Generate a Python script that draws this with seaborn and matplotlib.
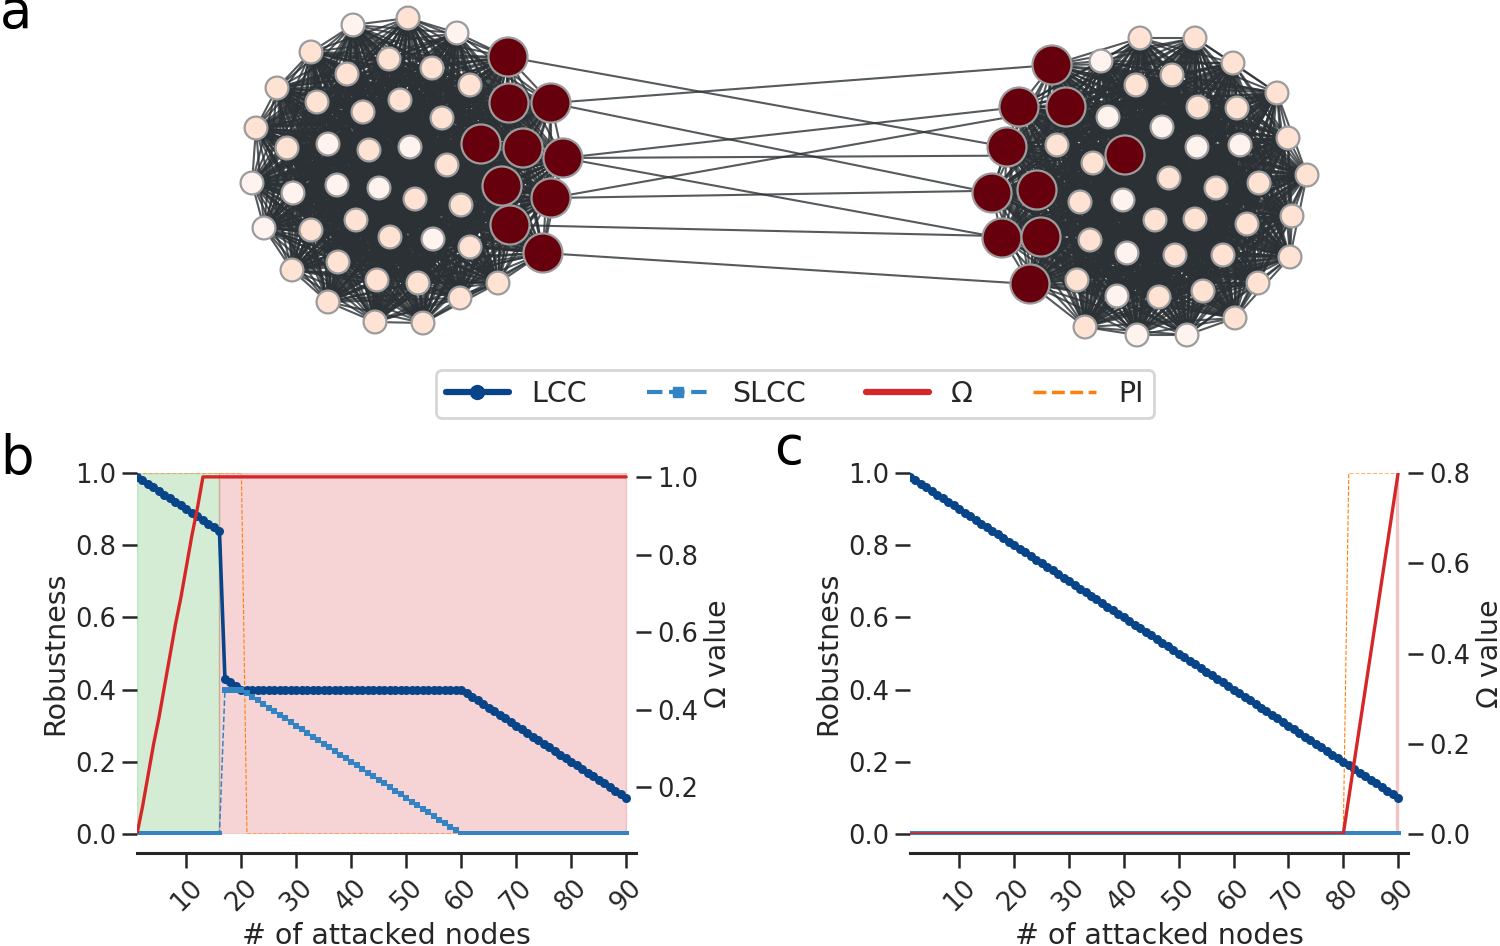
import itertools
import pandas as pd
import matplotlib
matplotlib.use('Agg')
import matplotlib.pyplot as plt
from matplotlib.collections import LineCollection
from matplotlib.lines import Line2D
import seaborn as sns

# ---------------- network (panel a), positions ----------------
# left cluster: 40 intact nodes, 10 attacked nodes; right cluster the same
node_x = [353, 408, 457, 311, 389, 432, 347, 277, 470, 400,
          317, 363, 442, 256, 287, 328, 369, 410, 447, 252,
          293, 337, 379, 415, 461, 356, 264, 311, 390, 433,
          470, 338, 292, 377, 418, 498, 460, 328, 375, 423,
          508, 509, 551, 481, 523, 563, 502, 551, 510, 543,
          1140, 1195, 1101, 1233, 1172, 1136, 1277, 1198, 1237, 1108,
          1162, 1288, 1057, 1197, 1240, 1093, 1169, 1307, 1216, 1259,
          1080, 1123, 1155, 1195, 1247, 1292, 1090, 1127, 1175, 1223,
          1290, 1077, 1117, 1159, 1203, 1258, 1085, 1137, 1187, 1235,
          1052, 1019, 1066, 1007, 1125, 992, 1037, 1002, 1041, 1030]
node_y = [25, 18, 33, 52, 59, 68, 74, 88, 85, 100,
          102, 112, 118, 128, 148, 144, 150, 147, 165, 183,
          193, 185, 188, 199, 205, 220, 228, 230, 237, 239,
          247, 262, 270, 280, 283, 283, 298, 302, 322, 323,
          57, 103, 103, 144, 148, 158, 186, 198, 225, 253,
          38, 38, 61, 63, 75, 85, 93, 107, 108, 117,
          127, 138, 145, 147, 145, 163, 178, 175, 188, 183,
          202, 200, 220, 219, 224, 216, 240, 253, 255, 255,
          257, 280, 296, 297, 291, 283, 327, 335, 335, 318,
          65, 107, 107, 147, 155, 193, 190, 238, 237, 284]
node_kind = (['pale', 'peach', 'pale', 'peach', 'peach', 'peach', 'peach', 'peach', 'peach', 'peach',
              'peach', 'peach', 'peach', 'peach', 'peach', 'pale', 'peach', 'pale', 'peach', 'pale',
              'pale', 'pale', 'pale', 'peach', 'peach', 'peach', 'pale', 'peach', 'peach', 'pale',
              'peach', 'peach', 'peach', 'peach', 'peach', 'peach', 'peach', 'peach', 'peach', 'peach']
             + ['attacked'] * 10
             + ['peach', 'peach', 'pale', 'peach', 'peach', 'peach', 'peach', 'peach', 'peach', 'pale',
                'pale', 'peach', 'peach', 'pale', 'pale', 'peach', 'peach', 'peach', 'peach', 'peach',
                'peach', 'pale', 'peach', 'peach', 'peach', 'peach', 'peach', 'pale', 'peach', 'peach',
                'peach', 'peach', 'pale', 'peach', 'peach', 'peach', 'peach', 'pale', 'pale', 'peach']
             + ['attacked'] * 10)
left_cluster = list(range(0, 50))
right_cluster = list(range(50, 100))
bridges = [(40, 93), (42, 90), (42, 95), (45, 91), (45, 94),
           (45, 97), (47, 96), (47, 92), (48, 98), (49, 99)]

# ---------------- attack curves (panels b and c) ----------------
attacked = list(range(1, 91))

b_lcc = ([0.99, 0.98, 0.97, 0.96, 0.95, 0.94, 0.93, 0.92, 0.91, 0.90,
          0.89, 0.88, 0.87, 0.86, 0.85, 0.84, 0.43, 0.42, 0.41, 0.40]
         + [0.40] * 40
         + [0.39, 0.38, 0.37, 0.36, 0.35, 0.34, 0.33, 0.32, 0.31, 0.30,
            0.29, 0.28, 0.27, 0.26, 0.25, 0.24, 0.23, 0.22, 0.21, 0.20,
            0.19, 0.18, 0.17, 0.16, 0.15, 0.14, 0.13, 0.12, 0.11, 0.10])
b_slcc = ([0.0] * 16 + [0.40, 0.40, 0.40, 0.40]
          + [0.39, 0.38, 0.37, 0.36, 0.35, 0.34, 0.33, 0.32, 0.31, 0.30,
             0.29, 0.28, 0.27, 0.26, 0.25, 0.24, 0.23, 0.22, 0.21, 0.20,
             0.19, 0.18, 0.17, 0.16, 0.15, 0.14, 0.13, 0.12, 0.11, 0.10,
             0.09, 0.08, 0.07, 0.06, 0.05, 0.04, 0.03, 0.02, 0.01, 0.00]
          + [0.0] * 30)
b_omega = ([0.08, 0.15, 0.23, 0.31, 0.38, 0.46, 0.54, 0.62, 0.69, 0.77, 0.85, 0.92]
           + [1.0] * 78)
b_pi = [1.0] * 20 + [0.0] * 70
b_spans = [(1, 16, 'tab:green'), (16, 90, 'tab:red')]
b_right_ticks = [0.2, 0.4, 0.6, 0.8, 1.0]
b_right_top = 1.01

c_lcc = [0.99, 0.98, 0.97, 0.96, 0.95, 0.94, 0.93, 0.92, 0.91, 0.90,
         0.89, 0.88, 0.87, 0.86, 0.85, 0.84, 0.83, 0.82, 0.81, 0.80,
         0.79, 0.78, 0.77, 0.76, 0.75, 0.74, 0.73, 0.72, 0.71, 0.70,
         0.69, 0.68, 0.67, 0.66, 0.65, 0.64, 0.63, 0.62, 0.61, 0.60,
         0.59, 0.58, 0.57, 0.56, 0.55, 0.54, 0.53, 0.52, 0.51, 0.50,
         0.49, 0.48, 0.47, 0.46, 0.45, 0.44, 0.43, 0.42, 0.41, 0.40,
         0.39, 0.38, 0.37, 0.36, 0.35, 0.34, 0.33, 0.32, 0.31, 0.30,
         0.29, 0.28, 0.27, 0.26, 0.25, 0.24, 0.23, 0.22, 0.21, 0.20,
         0.19, 0.18, 0.17, 0.16, 0.15, 0.14, 0.13, 0.12, 0.11, 0.10]
c_slcc = [0.0] * 90
c_omega = [0.0] * 80 + [0.08, 0.16, 0.24, 0.32, 0.40, 0.48, 0.56, 0.64, 0.72, 0.80]
c_pi = [0.0] * 80 + [1.0] * 10
c_spans = [(89.6, 90, 'tab:red')]
c_right_ticks = [0.0, 0.2, 0.4, 0.6, 0.8]
c_right_top = 0.8

x_ticks = [10, 20, 30, 40, 50, 60, 70, 80, 90]
y_ticks = [0.0, 0.2, 0.4, 0.6, 0.8, 1.0]

LCC_C = '#084488'
SLCC_C = '#3484c4'
OMEGA_C = '#d62728'
PI_C = '#ff7f0e'

sns.set_theme(style='ticks')
plt.rcParams['font.family'] = ['DejaVu Sans']

fig = plt.figure(figsize=(15, 9.46), dpi=100)

# ---- panel a ----
ax_net = fig.add_axes([0, 1 - 360 / 946, 1, 360 / 946])
segs = []
for cluster in (left_cluster, right_cluster):
    for i, j in itertools.combinations(cluster, 2):
        segs.append([(node_x[i], node_y[i]), (node_x[j], node_y[j])])
for i, j in bridges:
    segs.append([(node_x[i], node_y[i]), (node_x[j], node_y[j])])
ax_net.add_collection(LineCollection(segs, colors='#2b3134', linewidths=1.5, alpha=0.8, zorder=1))

df_nodes = pd.DataFrame({'x': node_x, 'y': node_y, 'kind': node_kind})
sns.scatterplot(data=df_nodes, x='x', y='y', hue='kind', size='kind',
                palette={'peach': '#fee2d3', 'pale': '#fff3ef', 'attacked': '#67000d'},
                sizes={'peach': 270, 'pale': 270, 'attacked': 790},
                edgecolor='#9c9c9c', linewidth=1.6, legend=False, ax=ax_net, zorder=2)
ax_net.set_xlim(0, 1500)
ax_net.set_ylim(360, 0)
ax_net.axis('off')


def draw_panel(rect, lcc, slcc, omega, pi, spans, right_ticks, right_top):
    ax = fig.add_axes(rect)
    for s, e, col in spans:
        ax.axvspan(s, e, color=col, alpha=0.2, zorder=0)
    sns.lineplot(x=attacked, y=pi, ax=ax, color=PI_C, lw=0.8, ls='--')
    sns.lineplot(x=attacked, y=lcc, ax=ax, color=LCC_C, lw=2.6, marker='o', ms=6.5, mew=0)
    sns.lineplot(x=attacked, y=slcc, ax=ax, color=SLCC_C, lw=1.1, ls='--', marker='s', ms=4.3, mew=0)
    ax2 = ax.twinx()
    sns.lineplot(x=attacked, y=omega, ax=ax2, color=OMEGA_C, lw=2.4)

    ax.set_xlim(1, 91.8)
    ax.set_ylim(0, 1)
    ax2.set_ylim(min(omega), right_top)
    ax.set_xticks(x_ticks)
    ax.set_xticklabels([str(t) for t in x_ticks])
    ax.set_yticks(y_ticks)
    ax.set_yticklabels(['%.1f' % t for t in y_ticks])
    ax2.set_yticks(right_ticks)
    ax2.set_yticklabels(['%.1f' % t for t in right_ticks])

    for a in (ax, ax2):
        a.tick_params(labelsize=18.5, length=11, width=1.8, color='#262626', pad=4)
        for side in ('top', 'right', 'left', 'bottom'):
            a.spines[side].set_visible(False)
    ax.tick_params(axis='x', labelrotation=45)
    ax.spines['bottom'].set_visible(True)
    ax.spines['bottom'].set_position(('outward', 14))
    ax.spines['bottom'].set_linewidth(2.2)

    ax.set_xlabel('# of attacked nodes', fontsize=20.5, labelpad=4)
    ax.set_ylabel('Robustness', fontsize=20.5)
    ax2.set_ylabel('Ω value', fontsize=20.5, labelpad=4)
    return ax


draw_panel([137 / 1500, 1 - 834 / 946, 499 / 1500, 361 / 946],
           b_lcc, b_slcc, b_omega, b_pi, b_spans, b_right_ticks, b_right_top)
draw_panel([910 / 1500, 1 - 834 / 946, 498 / 1500, 361 / 946],
           c_lcc, c_slcc, c_omega, c_pi, c_spans, c_right_ticks, c_right_top)

handles = [Line2D([], [], color=LCC_C, lw=4.5, marker='o', ms=10),
           Line2D([], [], color=SLCC_C, lw=3, ls='--', marker='s', ms=7),
           Line2D([], [], color=OMEGA_C, lw=4.5),
           Line2D([], [], color=PI_C, lw=2.5, ls='--')]
leg = fig.legend(handles, ['LCC', 'SLCC', 'Ω', 'PI'], loc='center',
                 bbox_to_anchor=(795 / 1500, 1 - 394 / 946), ncol=4, fontsize=20.5,
                 handlelength=2.2, columnspacing=2.1, handletextpad=0.8,
                 frameon=True, fancybox=True, borderpad=0.35)
leg.get_frame().set_edgecolor('#cccccc')
leg.get_frame().set_linewidth(2)

for letter, lx, ly in [('a', 0, 28), ('b', 0, 474), ('c', 774, 464)]:
    fig.text(lx / 1500, 1 - ly / 946, letter, fontsize=38, ha='left', va='baseline', color='black')

fig.savefig('out.png', dpi=100)
